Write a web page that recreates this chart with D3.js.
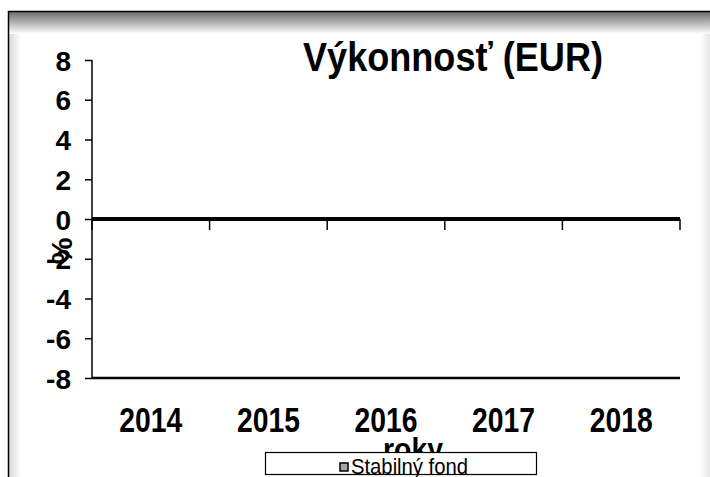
<!DOCTYPE html>
<html>
<head>
<meta charset="utf-8">
<script src="https://cdn.jsdelivr.net/npm/d3@7"></script>
<style>
  html, body { margin: 0; padding: 0; background: #fff; }
  svg { display: block; }
  text { font-family: "Liberation Sans", Arial, sans-serif; }
</style>
</head>
<body>
<script>
// chart data
const years = ['2014', '2015', '2016', '2017', '2018'];
const stabilnyFond = [0, 0, 0, 0, 0];
const yTicks = [-8, -6, -4, -2, 0, 2, 4, 6, 8];
const title = 'Výkonnosť (EUR)';
const seriesName = 'Stabilný fond';

const W = 710, H = 477;
const svg = d3.select('body').append('svg')
  .attr('width', W)
  .attr('height', H)
  .attr('viewBox', [0, 0, W, H]);

const defs = svg.append('defs');
const gTop = defs.append('linearGradient').attr('id', 'shTop').attr('x1', 0).attr('y1', 0).attr('x2', 0).attr('y2', 1);
gTop.append('stop').attr('offset', '0%').attr('stop-color', '#6f6f6f');
gTop.append('stop').attr('offset', '100%').attr('stop-color', '#fff');
const gLeft = defs.append('linearGradient').attr('id', 'shLeft').attr('x1', 0).attr('y1', 0).attr('x2', 1).attr('y2', 0);
gLeft.append('stop').attr('offset', '0%').attr('stop-color', '#d8d8d8');
gLeft.append('stop').attr('offset', '100%').attr('stop-color', '#fff');
const gRight = defs.append('linearGradient').attr('id', 'shRight').attr('x1', 0).attr('y1', 0).attr('x2', 1).attr('y2', 0);
gRight.append('stop').attr('offset', '0%').attr('stop-color', '#fff');
gRight.append('stop').attr('offset', '100%').attr('stop-color', '#e6e6e6');

// frame with shadows
svg.append('rect').attr('x', 9).attr('y', 12).attr('width', 12).attr('height', H - 12).attr('fill', 'url(#shLeft)');
svg.append('rect').attr('x', 700).attr('y', 12).attr('width', 10).attr('height', H - 12).attr('fill', 'url(#shRight)');
svg.append('rect').attr('x', 9).attr('y', 12).attr('width', W - 9).attr('height', 22).attr('fill', 'url(#shTop)');
svg.append('line').attr('x1', 8).attr('x2', W).attr('y1', 11.5).attr('y2', 11.5).attr('stroke', '#000').attr('stroke-width', 1.5);
svg.append('line').attr('x1', 8.5).attr('x2', 8.5).attr('y1', 11).attr('y2', H).attr('stroke', '#000').attr('stroke-width', 1.5);

const x = d3.scaleBand().domain(years).range([92, 680]);
const y = d3.scaleLinear().domain([-8, 8]).range([378, 60]);

// bars (all zero)
svg.append('g').selectAll('rect')
  .data(stabilnyFond)
  .join('rect')
  .attr('x', (d, i) => x(years[i]) + x.bandwidth() * 0.25)
  .attr('width', x.bandwidth() * 0.5)
  .attr('y', d => y(Math.max(0, d)))
  .attr('height', d => Math.abs(y(d) - y(0)))
  .attr('fill', '#a6a6a6')
  .attr('stroke', '#000');

// y axis
const yAxis = svg.append('g')
  .attr('transform', 'translate(92,0)')
  .call(d3.axisLeft(y).tickValues(yTicks).tickSize(7).tickPadding(14).tickFormat(d => String(d)));
yAxis.select('.domain').attr('stroke-width', 1.5).attr('d', `M0,${y(8)}V${y(-8)}`);
yAxis.selectAll('.tick line').attr('stroke-width', 1.5);
yAxis.selectAll('.tick text')
  .attr('font-size', 28)
  .attr('font-weight', 'bold')
  .attr('fill', '#000')
  .attr('dy', '0.36em');

// bottom line at -8
svg.append('line').attr('x1', 92).attr('x2', 680).attr('y1', y(-8)).attr('y2', y(-8))
  .attr('stroke', '#000').attr('stroke-width', 2.5);

// category axis crossing at 0
const xAxis = svg.append('g')
  .attr('transform', `translate(0,${y(0)})`)
  .call(d3.axisBottom(x).tickSize(0).tickFormat(''));
xAxis.select('.domain').attr('stroke-width', 4).attr('d', `M92,0H680`);
xAxis.selectAll('.tick').remove();
xAxis.selectAll('line.bound')
  .data(d3.range(years.length + 1))
  .join('line')
  .attr('class', 'bound')
  .attr('x1', i => 92 + i * x.step())
  .attr('x2', i => 92 + i * x.step())
  .attr('y1', 0).attr('y2', 11)
  .attr('stroke', '#000').attr('stroke-width', 1.5);

// category labels at the bottom
svg.append('g').selectAll('text')
  .data(years)
  .join('text')
  .attr('x', d => x(d) + x.bandwidth() / 2)
  .attr('y', 432)
  .attr('text-anchor', 'middle')
  .attr('font-size', 35)
  .attr('font-weight', 'bold')
  .attr('textLength', 63)
  .attr('lengthAdjust', 'spacingAndGlyphs')
  .text(d => d);

// title
svg.append('text')
  .attr('x', 303).attr('y', 71)
  .attr('font-size', 40)
  .attr('font-weight', 'bold')
  .attr('textLength', 300)
  .attr('lengthAdjust', 'spacingAndGlyphs')
  .text(title);

// y axis title
svg.append('text')
  .attr('transform', 'translate(72,251) rotate(-90)')
  .attr('text-anchor', 'middle')
  .attr('font-size', 30)
  .attr('font-weight', 'bold')
  .text('%');

// x axis title
svg.append('text')
  .attr('x', 383).attr('y', 460)
  .attr('font-size', 31)
  .attr('font-weight', 'bold')
  .attr('textLength', 60)
  .attr('lengthAdjust', 'spacingAndGlyphs')
  .text('roky');

// legend
const lg = svg.append('g');
lg.append('rect').attr('x', 265.5).attr('y', 452.5).attr('width', 271).attr('height', 22)
  .attr('fill', '#fff').attr('stroke', '#000').attr('stroke-width', 1.2);
lg.append('rect').attr('x', 340).attr('y', 463).attr('width', 8).attr('height', 8)
  .attr('fill', '#a6a6a6').attr('stroke', '#000').attr('stroke-width', 1.5);
lg.append('text').attr('x', 351).attr('y', 474)
  .attr('font-size', 22)
  .attr('textLength', 117)
  .attr('lengthAdjust', 'spacingAndGlyphs')
  .text(seriesName);
</script>
</body>
</html>
